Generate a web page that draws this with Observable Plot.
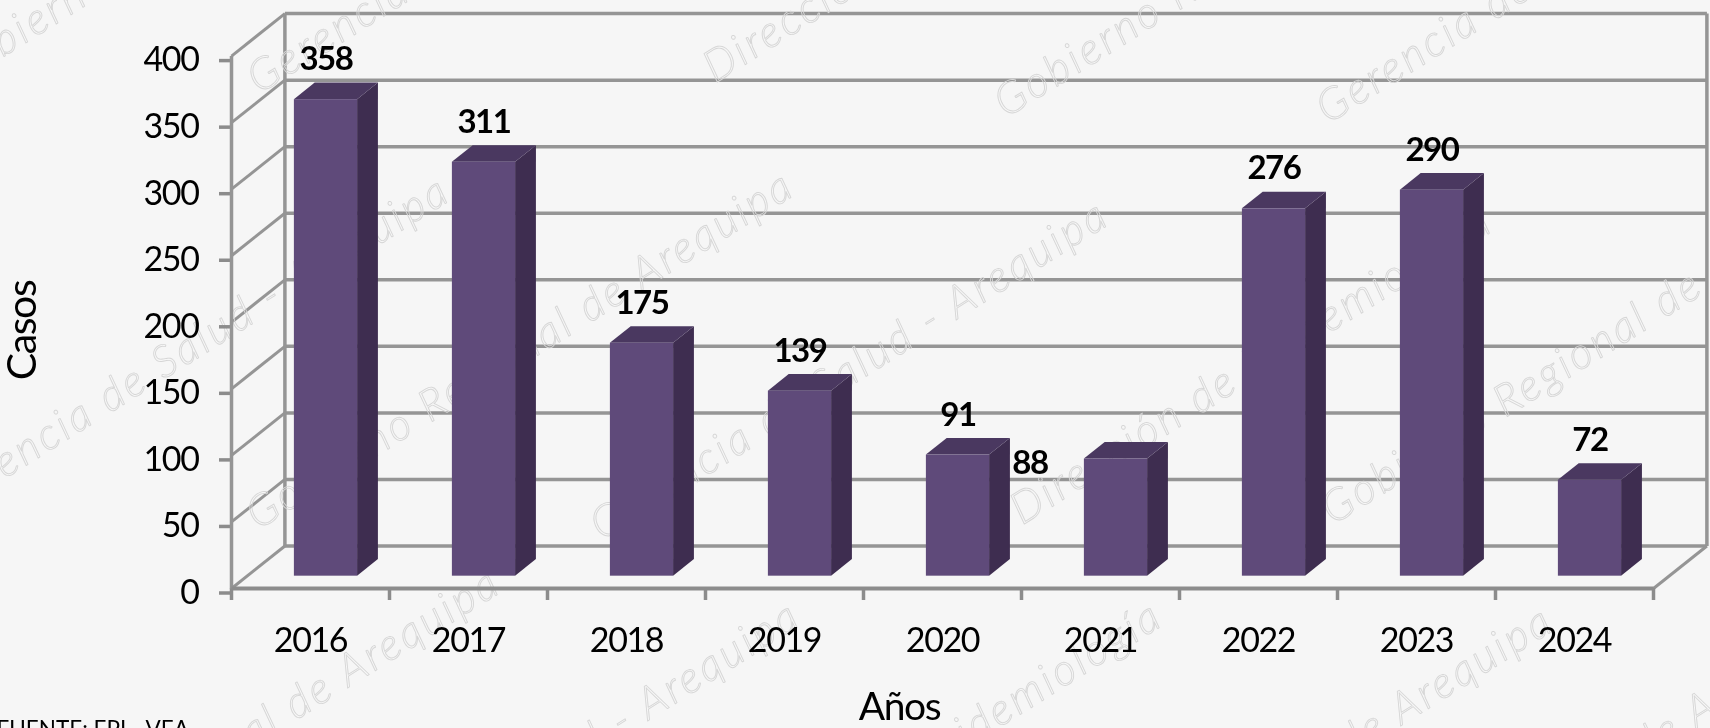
<!DOCTYPE html>
<html>
<head>
<meta charset="utf-8">
<script src="https://cdn.jsdelivr.net/npm/d3@7"></script>
<script src="https://cdn.jsdelivr.net/npm/@observablehq/plot@0.6"></script>
<style>
  html, body { margin: 0; padding: 0; background: #f6f6f6; overflow: hidden; }
  #chart svg { display: block; filter: blur(0.5px); }
  svg text { letter-spacing: -1.4px; }
  .wm text { letter-spacing: 3px; }
  .src text { letter-spacing: 0; }
</style>
</head>
<body>
<div id="chart"></div>
<script>
const years = ["2016","2017","2018","2019","2020","2021","2022","2023","2024"];
const cases = [358,311,175,139,91,88,276,290,72];
const yTicks = [0,50,100,150,200,250,300,350,400];

const WM_GER = "Gerencia de Salud - Arequipa";
const WM_GOB = "Gobierno Regional de Arequipa";
const WM_DIR = "Dirección de Epidemiología";
const watermarkStart = [
  [WM_GER,-65,505],[WM_GOB,250,518],[WM_GER,594,529],[WM_DIR,1014,513],[WM_GOB,1325,513],
  [WM_GER,251,82],[WM_DIR,707,71],[WM_GOB,998,106],[WM_GER,1320,112],
  [WM_GOB,-55,76]
];
const watermarkEnd = [
  [WM_GOB,496,578],[WM_GER,796,611],[WM_DIR,1158,611],[WM_GOB,1549,616],[WM_GOB,1844,619]
];

// Chart geometry
const W = 1710, H = 728, L = 231, R = 1653, Y0 = 588, Y400 = 55.6;
const unitX = (R - L) / 9, unitY = (Y0 - Y400) / 400;
const dX = 53.4 / unitX, dY = 42.5 / unitY;   // floor depth in data units
const toX = p => (p - L) / unitX, toY = p => (Y0 - p) / unitY;
const barW = 0.40, front = 0.29, depth = 0.39;

const rows = years.map((year, i) => ({year, value: cases[i], c: i + 0.5 + front * dX}));
rows.forEach(d => { d.l = d.c - barW / 2; d.r = d.c + barW / 2; d.y0 = front * dY; d.yT = d.y0 + d.value; });
const side = rows.flatMap(d => [
  {z: d.year, x: d.r, y1: d.y0, y2: d.yT},
  {z: d.year, x: d.r + depth * dX, y1: d.y0 + depth * dY, y2: d.yT + depth * dY}
]);
const topFace = rows.flatMap(d => [
  {z: d.year, y: d.yT, x1: d.l, x2: d.r},
  {z: d.year, y: d.yT + depth * dY, x1: d.l + depth * dX, x2: d.r + depth * dX}
]);

const grid = "#959595", sw = 3.5;
const font = "Lato, Carlito, sans-serif";
const fix = v => () => v;
const wmStyle = {rotate: -32, fontSize: 44, fontStyle: "italic", fontWeight: 300, fill: "none", stroke: "#d6d6d6", strokeWidth: 0.9, className: "wm"};

const chart = Plot.plot({
  width: W, height: H,
  marginLeft: L, marginRight: W - R, marginTop: Y400, marginBottom: H - Y0,
  style: {background: "#f6f6f6", fontFamily: font, overflow: "hidden"},
  x: {domain: [0, 9], range: [L, R]},
  y: {domain: [0, 400], range: [Y0, Y400]},
  marks: [
    // back wall gridlines
    Plot.link(yTicks, {x1: fix(dX), x2: fix(9 + dX), y1: d => d + dY, y2: d => d + dY, stroke: grid, strokeWidth: sw}),
    // side wall
    Plot.link(yTicks, {x1: fix(0), x2: fix(dX), y1: d => d, y2: d => d + dY, stroke: grid, strokeWidth: 3}),
    Plot.link([0], {x1: fix(dX), x2: fix(dX), y1: fix(dY), y2: fix(400 + dY), stroke: grid, strokeWidth: sw}),
    Plot.link([0], {x1: fix(9 + dX), x2: fix(9 + dX), y1: fix(dY), y2: fix(400 + dY), stroke: grid, strokeWidth: sw}),
    Plot.link([0], {x1: fix(9), x2: fix(9 + dX), y1: fix(0), y2: fix(dY), stroke: grid, strokeWidth: 3}),
    // watermarks
    Plot.text(watermarkStart, {x: d => toX(d[1]), y: d => toY(d[2]), text: d => d[0], textAnchor: "start", ...wmStyle}),
    Plot.text(watermarkEnd, {x: d => toX(d[1]), y: d => toY(d[2]), text: d => d[0], textAnchor: "end", ...wmStyle}),
    // axes
    Plot.axisY({ticks: yTicks, tickSize: 12, tickPadding: 21, stroke: "#8c8c8c", strokeWidth: 3.5, label: null, fontSize: 34, fill: "#000", dy: 4.5, textStroke: "none"}),
    Plot.axisX({ticks: d3.range(0, 10), tickSize: 12, tickFormat: () => "", stroke: "#8c8c8c", strokeWidth: 3.5, label: null}),
    Plot.axisX({ticks: years.map((y, i) => i + 0.5), tickSize: 0, tickPadding: 39, tickFormat: d => years[Math.floor(d)], label: null, fontSize: 34, fill: "#000"}),
    Plot.link([0], {x1: fix(0), x2: fix(0), y1: fix(0), y2: fix(400), stroke: grid, strokeWidth: sw}),
    Plot.link([0], {x1: fix(0), x2: fix(9), y1: fix(0), y2: fix(0), stroke: "#8c8c8c", strokeWidth: 4}),
    // bars
    Plot.areaY(side, {x: "x", y1: "y1", y2: "y2", z: "z", fill: "#3e2d50"}),
    Plot.areaX(topFace, {y: "y", x1: "x1", x2: "x2", z: "z", fill: "#4a3860"}),
    Plot.rect(rows, {x1: "l", x2: "r", y1: "y0", y2: "yT", fill: "#5f4a7a"}),
    // value labels
    Plot.text(rows.filter(d => d.year !== "2021"), {x: "c", y: "yT", text: d => String(d.value), dy: -40, fontSize: 33, fontWeight: 700, fill: "#000", lineAnchor: "middle"}),
    Plot.text(rows.filter(d => d.year === "2021"), {x: "c", y: "yT", text: d => String(d.value), dx: -86, dy: 4, fontSize: 33, fontWeight: 700, fill: "#000", lineAnchor: "middle"}),
    // titles
    Plot.text(["Años"], {x: fix(toX(899)), y: fix(toY(707)), text: d => d, fontSize: 39, fill: "#000"}),
    Plot.text(["Casos"], {x: fix(toX(22)), y: fix(toY(330)), text: d => d, rotate: -90, fontSize: 41, fill: "#000"}),
    Plot.text(["FUENTE: EPI - VEA"], {x: fix(toX(-4)), y: fix(toY(736)), text: d => d, textAnchor: "start", lineAnchor: "bottom", fontSize: 22.5, fill: "#000", className: "src"})
  ]
});
document.getElementById("chart").append(chart);
</script>
</body>
</html>
